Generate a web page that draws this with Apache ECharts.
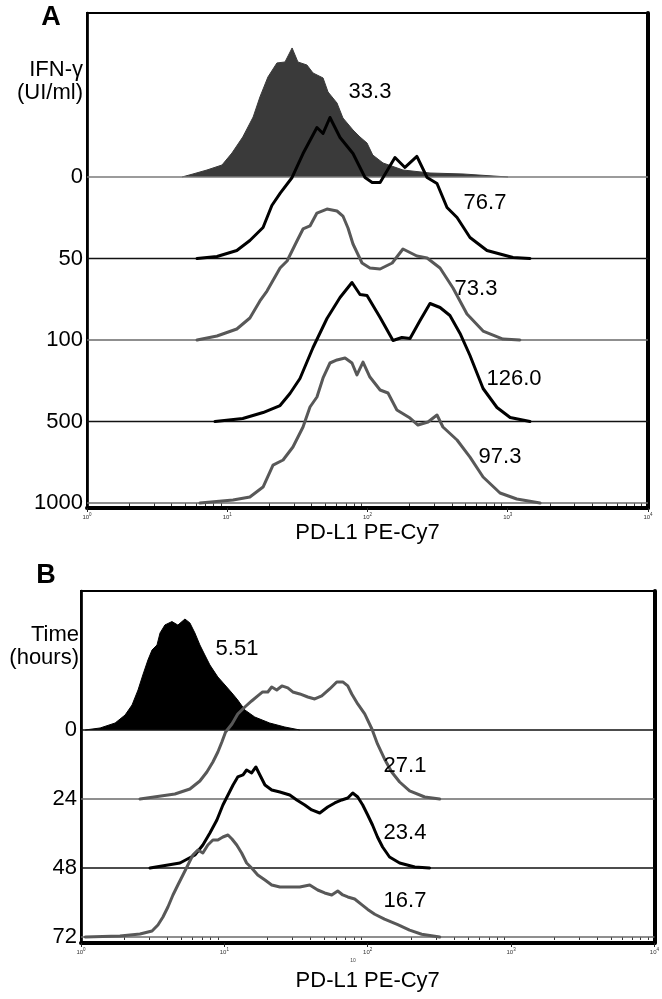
<!DOCTYPE html>
<html><head><meta charset="utf-8">
<script src="https://cdn.jsdelivr.net/npm/echarts@6/dist/echarts.min.js"></script>
<style>html,body{margin:0;padding:0;background:#fff}#c{width:662px;height:999px}</style>
</head><body><div id="c"></div><script>
// ---------- Panel A: IFN-γ dose (UI/ml); x = PD-L1 PE-Cy7 intensity, y = relative count ----------
const doseLabels = ['0', '50', '100', '500', '1000'];
const doseMFI = ['33.3', '76.7', '73.3', '126.0', '97.3'];
const ifn0 = [[4.76,0],[5.70,3.7],[7.17,8.6],[9.17,14.7],[10.8,29.4],[12.9,49.1],[15.3,73.6],[17.1,98.2],[19.5,122.7],[22.6,139.9],[25.8,141.1],[29.0,158.3],[31.9,141.1],[37.0,137.4],[40.9,127.6],[48.2,121.5],[52.3,104.3],[60.6,90.8],[66.8,72.4],[78.8,57.7],[88.4,49.1],[99.2,41.7],[109,27.0],[129,17.2],[179,8.6],[279,4.9],[480,3.7],[1005,0]];
const ifn50 = [[6.09,0],[8.45,2.5],[11.7,9.8],[14.5,22.1],[18.0,38.0],[20.8,65.0],[23.8,79.8],[29.0,99.4],[34.7,128.8],[43.6,160.7],[48.2,153.4],[54.0,173.0],[63.7,148.5],[78.8,128.8],[96.0,99.4],[108,93.3],[123,93.3],[157,123.9],[185,111.7],[225,125.2],[266,99.4],[313,92.0],[369,62.6],[435,50.3],[538,25.8],[711,9.8],[1090,1.2],[1440,0]];
const ifn100 = [[6.09,0],[8.45,4.9],[11.7,13.5],[14.5,27.0],[17.1,47.9],[19.2,60.1],[23.8,88.3],[26.7,96.9],[31.4,121.5],[34.7,136.2],[38.9,139.9],[43.6,155.8],[51.4,160.7],[60.6,158.3],[66.8,152.1],[72.6,137.4],[78.8,117.8],[91.4,94.5],[104,88.3],[123,87.1],[150,94.5],[179,111.7],[225,103.1],[266,100.6],[329,88.3],[407,63.8],[512,31.9],[667,11.0],[925,1.2],[1220,0]];
const ifn500 = [[8.18,0],[12.9,3.7],[18.0,11.0],[23.8,19.6],[28.0,34.4],[33.0,52.8],[40.9,90.8],[51.4,126.4],[63.7,152.1],[77.5,170.6],[88.4,155.8],[99.2,154.6],[123,127.6],[152,99.4],[176,103.1],[201,101.8],[237,123.9],[279,144.8],[329,139.9],[387,130.1],[457,108.0],[538,81.0],[667,40.5],[838,17.2],[1040,4.9],[1440,0]];
const ifn1000 = [[6.39,0],[11.0,3.7],[14.5,7.4],[18.0,19.6],[21.2,46.6],[25.0,52.8],[29.4,68.7],[34.7,93.3],[38.9,117.8],[43.6,130.1],[48.2,153.4],[54.0,171.8],[60.6,175.5],[69.2,177.9],[77.5,171.8],[84.1,157.1],[92.9,173.0],[104,154.6],[123,138.7],[140,135.0],[162,114.1],[201,104.3],[229,95.7],[270,99.4],[313,108.0],[345,93.3],[435,77.3],[538,56.4],[667,31.9],[881,12.3],[1160,4.9],[1700,0]];

// ---------- Panel B: time (hours) ----------
const timeLabels = ['0', '24', '48', '72'];
const timeMFI = ['5.51', '27.1', '23.4', '16.7'];
const time0 = [[1.07,0],[1.36,2.9],[1.73,10.1],[2.03,21.7],[2.27,36.2],[2.50,58.0],[2.70,79.7],[2.93,101.4],[3.13,115.9],[3.39,123.2],[3.56,140.6],[3.85,152.2],[4.31,157.1],[4.74,152.0],[5.31,160.8],[5.75,155.1],[6.23,140.6],[6.75,123.2],[7.31,108.7],[7.93,94.2],[9.01,76.8],[10.1,65.2],[11.3,53.6],[12.4,43.5],[13.9,29.0],[16.3,18.8],[20.7,10.1],[26.4,4.3],[33.6,0]];
const time24 = [[2.58,0],[4.52,7.2],[5.75,14.5],[6.75,26.1],[7.55,39.1],[8.32,53.6],[9.01,68.1],[9.61,82.6],[10.2,97.1],[11.3,108.7],[12.4,123.2],[13.9,133.3],[15.5,142.0],[17.1,149.3],[18.5,155.1],[20.1,155.1],[21.4,162.3],[23.2,158.0],[25.2,163.8],[27.7,160.9],[30.0,155.1],[33.6,152.2],[38.2,147.8],[42.7,144.9],[47.8,149.3],[54.3,159.4],[60.8,169.6],[67.0,169.6],[72.6,163.8],[77.4,152.2],[85.2,137.7],[95.3,123.2],[107,101.4],[117,79.7],[131,58.0],[147,39.1],[167,24.6],[196,11.6],[250,2.9],[318,0]];
const time48 = [[3.03,0],[4.90,7.2],[6.23,18.8],[7.08,33.3],[7.93,50.7],[8.87,69.6],[9.77,91.3],[10.6,105.8],[11.5,120.3],[12.4,131.9],[13.5,134.8],[14.3,142.0],[15.5,137.7],[16.6,146.4],[17.7,134.8],[19.2,120.3],[21.4,113.0],[24.4,110.1],[28.6,105.8],[32.0,98.6],[36.4,91.3],[40.7,84.1],[46.3,79.7],[52.6,88.4],[58.9,94.2],[65.9,98.6],[72.6,101.4],[78.6,108.7],[85.2,102.9],[92.3,91.3],[100,76.8],[108,62.3],[117,44.9],[127,30.4],[142,15.9],[167,7.2],[213,1.4],[270,0]];
const time72 = [[1.07,0],[1.87,1.4],[2.58,4.3],[3.13,8.7],[3.44,17.4],[3.73,29.0],[4.04,43.5],[4.38,60.9],[4.74,75.4],[5.14,89.9],[5.57,104.3],[6.03,118.8],[6.53,126.1],[7.08,121.7],[7.67,133.3],[8.32,140.6],[9.01,140.6],[9.77,144.9],[10.6,147.8],[11.3,142.0],[12.2,133.3],[13.2,121.7],[14.3,107.2],[15.5,100.0],[17.1,89.9],[19.2,82.6],[21.4,75.4],[24.4,72.5],[28.6,72.5],[33.6,72.5],[39.4,75.4],[44.8,68.1],[50.1,63.8],[56.1,60.9],[61.8,66.7],[67.0,60.9],[72.6,58.0],[81.1,55.1],[90.8,47.0],[100,40.0],[112,33.0],[131,26.0],[162,18.0],[196,10.0],[238,4.0],[318,0]];

const decadeTicks = [1, 10, 100, 1000, 10000];

// ---------- layout / style ----------
const FONT = '"Liberation Sans", Arial, Helvetica, sans-serif';
const STEP = 100;           // vertical offset between stacked histograms (count units)
const BLACK = '#000000', GREY = '#585858';
const minorTicks = [];
for (let d = 0; d < 4; d++) for (let m = 2; m <= 9; m++) minorTicks.push(m * Math.pow(10, d));

const chart = echarts.init(document.getElementById('c'), null, {renderer: 'canvas'});

function xAxes(grid, nameGap) {
  return [{
    type: 'log', logBase: 10, min: 1, max: 10000, gridIndex: grid, position: 'bottom',
    name: 'PD-L1 PE-Cy7', nameLocation: 'middle', nameGap: nameGap,
    nameTextStyle: {fontFamily: FONT, fontSize: 22, color: '#000'},
    axisLine: {show: true, onZero: false, lineStyle: {color: '#000', width: 4}},
    axisTick: {show: true, length: 4, lineStyle: {color: '#222', width: 1}, customValues: decadeTicks},
    axisLabel: {show: true, margin: 4, customValues: decadeTicks,
      formatter: v => '{b|10}{s|' + Math.round(Math.log10(v)) + '}',
      rich: {b: {fontFamily: FONT, fontSize: 6, color: '#333'}, s: {fontFamily: FONT, fontSize: 4.5, color: '#333', padding: [0, 0, 5, 0]}}},
    splitLine: {show: false}
  }, {
    type: 'log', logBase: 10, min: 1, max: 10000, gridIndex: grid, position: 'bottom',
    axisLine: {show: false},
    axisTick: {show: true, length: 3, lineStyle: {color: '#333', width: 1}, customValues: minorTicks},
    axisLabel: {show: false}, splitLine: {show: false}
  }];
}
function yAxes(grid, min, max, labels, lw) {
  const n = labels.length;
  const vals = labels.map((_, i) => (n - 1 - i) * STEP);
  return [{
    type: 'value', gridIndex: grid, min: min, max: max, position: 'left',
    axisLine: {show: true, onZero: false, lineStyle: {color: '#000', width: lw}},
    axisTick: {show: false}, splitLine: {show: false},
    axisLabel: {show: true, margin: 4, fontFamily: FONT, fontSize: 22, color: '#000',
      customValues: vals, formatter: v => labels[n - 1 - Math.round(v / STEP)]}
  }, {
    type: 'value', gridIndex: grid, min: min, max: max, position: 'right',
    axisLine: {show: true, onZero: false, lineStyle: {color: '#000', width: 4}},
    axisTick: {show: false}, axisLabel: {show: false}, splitLine: {show: false}
  }];
}

const series = [];
function addHist(pts, off, color, xi, yi, fill, baseColor) {
  if (fill) {
    series.push({type: 'line', xAxisIndex: xi, yAxisIndex: yi, symbol: 'none', silent: true, z: 1,
      data: pts.map(p => [p[0], p[1] + off]),
      lineStyle: {color: color, width: 1}, areaStyle: {color: color, opacity: 1, origin: off}});
  }
  series.push({type: 'line', xAxisIndex: xi, yAxisIndex: yi, symbol: 'none', silent: true, z: 2,
    data: [[1, off], [10000, off]], lineStyle: {color: baseColor, width: 1.5}});
  if (!fill) {
    series.push({type: 'line', xAxisIndex: xi, yAxisIndex: yi, symbol: 'none', silent: true, z: 3,
      data: pts.map(p => [p[0], p[1] + off]),
      lineStyle: {color: color, width: 3, join: 'round', cap: 'round'}});
  }
}
const histA = [ifn0, ifn50, ifn100, ifn500, ifn1000];
const colA = ['#3a3a3a', BLACK, GREY, BLACK, GREY];
const baseA = ['#7a7a7a', '#111', '#6a6a6a', '#111', '#6a6a6a'];
histA.forEach((h, i) => addHist(h, (histA.length - 1 - i) * STEP, colA[i], 0, 0, i === 0, baseA[i]));
const histB = [time0, time24, time48, time72];
const colB = [BLACK, GREY, BLACK, GREY];
const baseB = ['#111', '#6a6a6a', '#111', '#6a6a6a'];
histB.forEach((h, i) => addHist(h, (histB.length - 1 - i) * STEP, colB[i], 2, 2, i === 0, baseB[i]));

function txt(s, x, y, size, align, bold, color) {
  return {type: 'text', x: x, y: y, silent: true, z: 100,
    style: {text: s, fill: color || '#000', font: (bold ? 'bold ' : '') + size + 'px ' + FONT,
      align: align, textAlign: align, verticalAlign: 'middle', textVerticalAlign: 'middle'}};
}
const posMFIA = [[370, 92], [485, 203], [476, 289], [514, 379], [500, 457]];
const posMFIB = [[237, 649], [405, 766], [405, 833], [405, 901]];
const graphics = [
  txt('A', 51, 18, 27, 'center', true),
  txt('B', 46, 576, 27, 'center', true),
  txt('IFN-γ', 83, 70, 22, 'right'),
  txt('(UI/ml)', 83, 93, 22, 'right'),
  txt('Time', 79, 635, 22, 'right'),
  txt('(hours)', 79, 658, 22, 'right'),
  txt('10', 353, 961, 5, 'center', false, '#444')
];
doseMFI.forEach((s, i) => graphics.push(txt(s, posMFIA[i][0], posMFIA[i][1], 22, 'center')));
timeMFI.forEach((s, i) => graphics.push(txt(s, posMFIB[i][0], posMFIB[i][1], 22, 'center')));

chart.setOption({
  animation: false,
  backgroundColor: '#fff',
  grid: [
    {left: 87, top: 13, width: 561, height: 495, show: true, borderColor: '#000', borderWidth: 2, backgroundColor: 'transparent'},
    {left: 81, top: 591, width: 575, height: 352, show: true, borderColor: '#000', borderWidth: 2, backgroundColor: 'transparent'}
  ],
  xAxis: [...xAxes(0, 14), ...xAxes(1, 27)],
  yAxis: [...yAxes(0, -6.1, 601.2, doseLabels, 2.7), ...yAxes(1, -8.7, 501.4, timeLabels, 2.7)],
  series: series,
  graphic: graphics
});
</script></body></html>
